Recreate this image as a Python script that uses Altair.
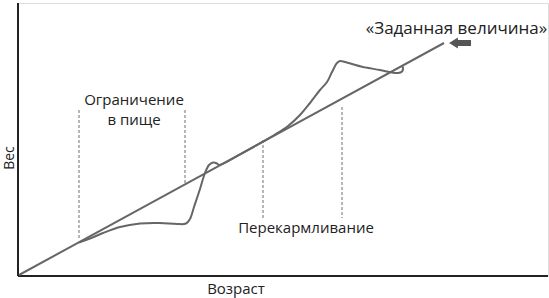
import altair as alt
import pandas as pd

# Growth curve (age, weight) in chart units
curve_x = [61, 72, 85, 102, 122, 142, 159, 168, 172, 176, 182, 187, 191, 195, 199, 201,
           223, 245, 257, 270, 282, 292, 302, 309, 314, 319, 322, 327, 345, 362, 374, 380, 384, 385, 384]
curve_y = [33.5, 37.5, 43, 49, 52.5, 53, 52, 52.5, 57, 69, 87, 103, 111, 113.5, 112.5, 111,
           122.2, 134.5, 141.5, 150, 161, 173, 186, 194, 204, 213, 215, 214, 209, 206, 203.5, 203, 204.5, 208, 210]

# "Set point" straight line
set_x = [1, 426]
set_y = [1, 233]

# Dashed markers
dash_x = [61, 167, 245, 324]
dash_top = [166, 166, 136, 169]
dash_bottom = [36, 93, 58, 58]

# Labels (alphabetic baseline)
label_a_text = ["Ограничение", "в пище", "«Заданная величина»"]
label_a_x = [116, 116, 438.5]
label_a_y = [171, 151, 242]
label_a_size = [15, 15, 17]

# Labels (middle baseline)
label_m_text = ["Перекармливание", "Возраст"]
label_m_x = [288, 218]
label_m_y = [48, -13]

# Arrow
arrow_x = [437, 453]
arrow_y = [233, 233]

W, H = 530, 273
xs = alt.Scale(domain=[0, W], nice=False, zero=False)
ys = alt.Scale(domain=[0, H], nice=False, zero=False)

curve_df = pd.DataFrame({"x": curve_x, "y": curve_y, "o": list(range(len(curve_x)))})
set_df = pd.DataFrame({"x": set_x, "y": set_y})
dash_df = pd.DataFrame({"x": dash_x, "top": dash_top, "bottom": dash_bottom})
la_df = pd.DataFrame({"t": label_a_text, "x": label_a_x, "y": label_a_y, "s": label_a_size})
lm_df = pd.DataFrame({"t": label_m_text, "x": label_m_x, "y": label_m_y})
shaft_df = pd.DataFrame({"x": [arrow_x[0]], "x2": [arrow_x[1]], "y": [arrow_y[0]]})
head_df = pd.DataFrame({"x": [arrow_x[0] - 1.5], "y": [arrow_y[0]]})

X = lambda f: alt.X(f, type="quantitative", scale=xs, axis=None)
Y = lambda f: alt.Y(f, type="quantitative", scale=ys, axis=None)

axes = alt.Chart(pd.DataFrame({"a": [0]})).mark_rule(color="#222", strokeWidth=2).encode(
    x=alt.value(0), y=alt.value(0), y2=alt.value(H))
axes2 = alt.Chart(pd.DataFrame({"a": [0]})).mark_rule(color="#222", strokeWidth=2).encode(
    x=alt.value(0), x2=alt.value(W), y=alt.value(H))

dashes = alt.Chart(dash_df).mark_rule(color="#888", strokeWidth=1.2, strokeDash=[3, 2]).encode(
    x=X("x"), y=Y("top"), y2="bottom")

setline = alt.Chart(set_df).mark_line(color="#666", strokeWidth=2).encode(x=X("x"), y=Y("y"))

curve = alt.Chart(curve_df).mark_line(color="#666", strokeWidth=2, interpolate="catmull-rom").encode(
    x=X("x"), y=Y("y"), order="o:Q")

shaft = alt.Chart(shaft_df).mark_rule(color="#555", strokeWidth=6).encode(x=X("x"), x2="x2", y=Y("y"))
head = alt.Chart(head_df).mark_point(shape="M -0.8 0 L 0.8 -1 L 0.8 1 Z", size=121, filled=True,
                                     color="#555", opacity=1).encode(x=X("x"), y=Y("y"))

labels_a = alt.Chart(la_df).mark_text(font="Open Sans", color="#222",
                                      align="center", baseline="alphabetic").encode(
    x=X("x"), y=Y("y"), text="t",
    size=alt.Size("s:Q", scale=None, legend=None))

labels_m = alt.Chart(lm_df).mark_text(font="Open Sans", fontSize=15, color="#222",
                                      align="center", baseline="middle").encode(
    x=X("x"), y=Y("y"), text="t")

ylab = alt.Chart(pd.DataFrame({"t": ["Вес"], "x": [-8.5], "y": [118]})).mark_text(
    font="Open Sans", fontSize=14, color="#222", angle=270, align="center", baseline="middle").encode(
    x=X("x"), y=Y("y"), text="t")

chart = alt.layer(axes, axes2, dashes, setline, curve, shaft, head, labels_a, labels_m, ylab).properties(
    width=W, height=H,
    autosize=alt.AutoSizeParams(type="none"),
    padding={"left": 18, "top": 3, "right": 1, "bottom": 22},
).configure_view(stroke=None).configure(background="white")

chart.save("out.html", embed_options={"renderer": "svg", "actions": False})
